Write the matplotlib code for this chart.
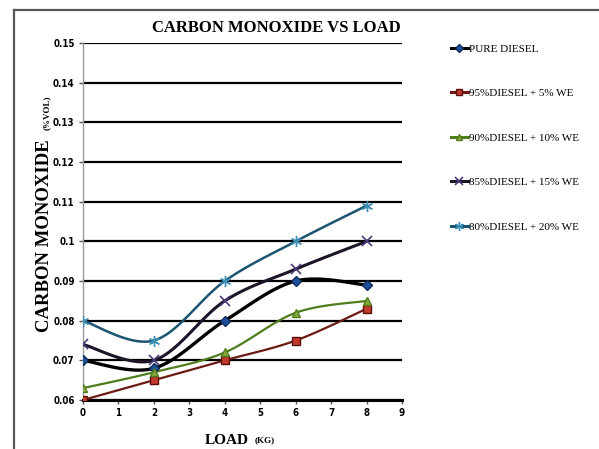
import numpy as np
import matplotlib
matplotlib.use("Agg")
import matplotlib.pyplot as plt
from matplotlib.lines import Line2D

# data
load = [0, 2, 4, 6, 8]
pure_diesel = [0.070, 0.068, 0.080, 0.090, 0.089]
we_5 = [0.060, 0.065, 0.070, 0.075, 0.083]
we_10 = [0.063, 0.067, 0.072, 0.082, 0.085]
we_15 = [0.074, 0.070, 0.085, 0.093, 0.100]
we_20 = [0.080, 0.075, 0.090, 0.100, 0.109]
labels = ["PURE DIESEL", "95%DIESEL + 5% WE", "90%DIESEL + 10% WE",
          "85%DIESEL + 15% WE", "80%DIESEL + 20% WE"]
yticks = [0.06, 0.07, 0.08, 0.09, 0.1, 0.11, 0.12, 0.13, 0.14, 0.15]
ytick_labels = ["0.06", "0.07", "0.08", "0.09", "0.1", "0.11", "0.12", "0.13", "0.14", "0.15"]


def smooth(xs, ys, n=30):
    # catmull-rom curve through the points, like excel's smoothed line
    xs = np.asarray(xs, float)
    ys = np.asarray(ys, float)
    px = np.concatenate([[xs[0]], xs, [xs[-1]]])
    py = np.concatenate([[ys[0]], ys, [ys[-1]]])
    outx, outy = [], []
    for i in range(1, len(px) - 2):
        t = np.linspace(0, 1, n)
        for p, out in ((px, outx), (py, outy)):
            p0, p1, p2, p3 = p[i - 1], p[i], p[i + 1], p[i + 2]
            out.extend(0.5 * (2 * p1 + (-p0 + p2) * t
                              + (2 * p0 - 5 * p1 + 4 * p2 - p3) * t ** 2
                              + (-p0 + 3 * p1 - 3 * p2 + p3) * t ** 3))
    return outx, outy


fig = plt.figure(figsize=(5.99, 4.49), dpi=100)
ax = fig.add_axes([0.1386, 0.1091, 0.5326, 0.7951])

# frame around the chart
fig.add_artist(Line2D([14 / 599, 14 / 599], [0, 1 - 10 / 449], transform=fig.transFigure,
                      color="#555555", lw=1.6))
fig.add_artist(Line2D([14 / 599, 1], [1 - 10 / 449, 1 - 10 / 449], transform=fig.transFigure,
                      color="#555555", lw=1.6))

styles = [
    dict(color="black", marker="D", mfc="#1f4e9a", mec="#0d2a5a", ms=5),
    dict(color="#6b1a14", marker="s", mfc="#c0392b", mec="#5a0f0a", ms=6),
    dict(color="#4f7d1e", marker="^", mfc="#86a83a", mec="#4f7d1e", ms=6),
    dict(color="#1e1428", marker="x", mfc="#5b4a8a", mec="#4b3a7a", ms=7, mew=1.2),
    dict(color="#1b5470", marker=(6, 2, 0), mfc="#3fa0c8", mec="#3d8fb5", ms=8, mew=1.0),
]
series = [pure_diesel, we_5, we_10, we_15, we_20]
widths = [2.4, 1.6, 1.6, 2.2, 1.8]

for ys, st, lw, lab in zip(series, styles, widths, labels):
    sx, sy = smooth(load, ys)
    ax.plot(sx, sy, color=st["color"], lw=lw, zorder=3)
    ax.plot(load, ys, ls="none", marker=st["marker"], mfc=st["mfc"], mec=st["mec"],
            ms=st["ms"], mew=st.get("mew", 1.0), zorder=4)

ax.set_xlim(0, 9)
ax.set_ylim(0.06, 0.15)
ax.set_xticks(range(10))
ax.set_yticks(yticks)
ax.set_yticklabels(ytick_labels)
ax.yaxis.grid(True, color="black", lw=1.6)
ax.set_axisbelow(True)
for s in ("top", "right"):
    ax.spines[s].set_visible(False)
ax.spines["left"].set_color("#999999")
ax.spines["left"].set_linewidth(1.0)
ax.spines["bottom"].set_linewidth(2.2)
ax.tick_params(axis="both", length=3, width=1, color="#555555", pad=3)
for t in ax.get_xticklabels() + ax.get_yticklabels():
    t.set_fontfamily("DejaVu Sans")
    t.set_fontstretch("condensed")
    t.set_fontweight("bold")
    t.set_fontsize(7)

fig.text(276 / 599, 1 - 28 / 449, "CARBON MONOXIDE VS LOAD", ha="center", va="center",
         family="Liberation Serif", weight="bold", fontsize=12)
fig.text(249 / 599, 1 - 440 / 449, "LOAD", ha="right", va="center",
         family="Liberation Serif", weight="bold", fontsize=11)
fig.text(255 / 599, 1 - 440 / 449, "(KG)", ha="left", va="center",
         family="Liberation Serif", weight="bold", fontsize=6.5)
fig.text(49 / 599, 1 - 236 / 449, "CARBON MONOXIDE", ha="center", va="baseline",
         rotation=90, rotation_mode="anchor", family="Liberation Serif", weight="bold",
         fontsize=13.5)
fig.text(49 / 599, 1 - 113 / 449, "(%VOL)", ha="center", va="baseline",
         rotation=90, rotation_mode="anchor", family="Liberation Serif", weight="bold",
         fontsize=6.5)

handles = [Line2D([], [], color=st["color"], lw=2.2, marker=st["marker"], mfc=st["mfc"],
                  mec=st["mec"], ms=st["ms"] * 0.8, mew=st.get("mew", 1.0)) for st in styles]
leg = fig.legend(handles, labels, loc="upper left", bbox_to_anchor=(441 / 599, 1 - 34 / 449),
                 frameon=False, handlelength=1.5, handletextpad=0.1, labelspacing=3.12,
                 prop=dict(family="Liberation Serif", size=8))

fig.savefig("out.png", dpi=100)
